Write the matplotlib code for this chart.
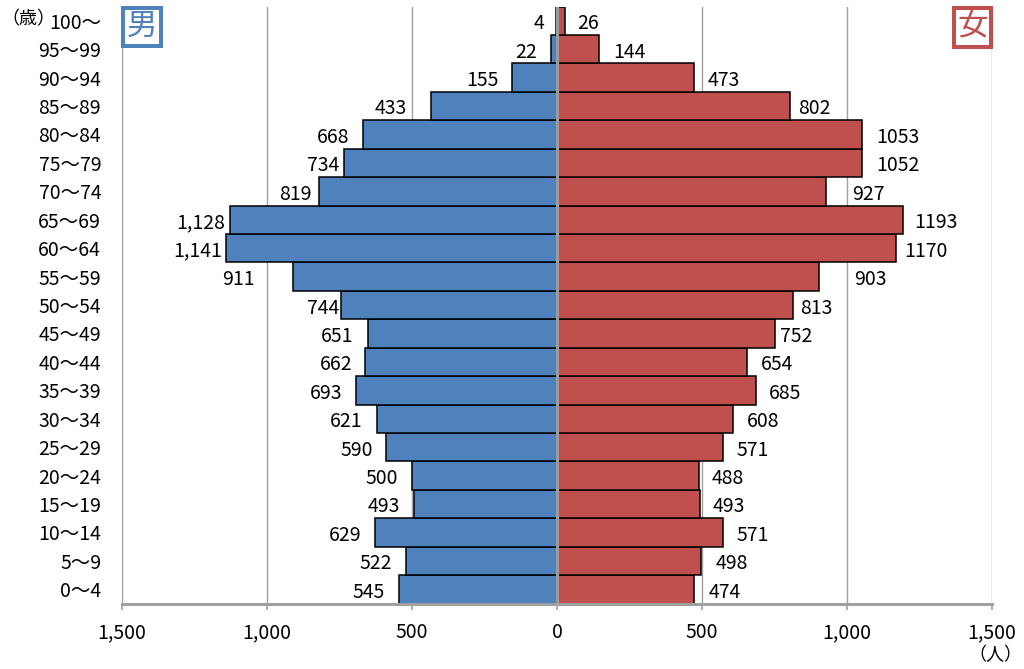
import matplotlib
matplotlib.use('Agg')
import matplotlib.pyplot as plt
from matplotlib.patches import Rectangle
from matplotlib.ticker import FuncFormatter

plt.rcParams['font.family'] = ['Noto Sans CJK JP', 'DejaVu Sans']

# --- データ (下から上へ: 0～4 → 100～) ---
age_labels = ['0～4', '5～9', '10～14', '15～19', '20～24', '25～29', '30～34',
              '35～39', '40～44', '45～49', '50～54', '55～59', '60～64', '65～69',
              '70～74', '75～79', '80～84', '85～89', '90～94', '95～99', '100～']
male = [545, 522, 629, 493, 500, 590, 621, 693, 662, 651, 744,
        911, 1141, 1128, 819, 734, 668, 433, 155, 22, 4]
female = [474, 498, 571, 493, 488, 571, 608, 685, 654, 752, 813,
          903, 1170, 1193, 927, 1052, 1053, 802, 473, 144, 26]
x_ticks = [-1500, -1000, -500, 0, 500, 1000, 1500]

# ラベルのずらし量 (px) - 元の図に合わせた手作業の配置
male_off = [14, 14, 13, 14, 14, 13, 14, 14, 13, 15, 2, 38, 4, 5, 8, 5, 14, 25, 13, 14, 11]
female_off = [14, 14, 14, 13, 13, 14, 14, 13, 14, 5, 7, 35, 8, 11, 26, 14, 14, 9, 13, 14, 13]

BLUE = '#4F81BD'
RED = '#C0504D'
GRID = '#A0A0A0'
PX = 0.72  # 1px -> pt (dpi 100)
FS = 14

fig = plt.figure(figsize=(10.24, 6.69), dpi=100)
ax = fig.add_axes([122 / 1024, 1 - 603.5 / 669, 870 / 1024, 597 / 669])

y = list(range(len(age_labels)))
ax.barh(y, [-v for v in male], height=1.0, color=BLUE, edgecolor='black',
        linewidth=1.1, zorder=2)
ax.barh(y, female, height=1.0, color=RED, edgecolor='black',
        linewidth=1.1, zorder=2)

ax.axvline(0, color='#9A9A9A', linewidth=2.2, zorder=3)

for i in y:
    ax.annotate(f"{male[i]:,}", (-male[i], i), xytext=(-male_off[i] * PX, -3 * PX),
                textcoords='offset points', ha='right', va='center', fontsize=FS)
    ax.annotate(f"{female[i]}", (female[i], i), xytext=(female_off[i] * PX, -3 * PX),
                textcoords='offset points', ha='left', va='center', fontsize=FS)

ax.set_xlim(-1500, 1500)
ax.set_ylim(-0.5, len(age_labels) - 0.5)
ax.set_xticks(x_ticks)
ax.xaxis.set_major_formatter(FuncFormatter(lambda v, p: f"{abs(int(v)):,}"))
ax.set_yticks(y)
ax.set_yticklabels(age_labels)
ax.grid(axis='x', color=GRID, linewidth=1.0, zorder=0)
ax.set_axisbelow(True)

for s in ['top', 'left', 'right']:
    ax.spines[s].set_visible(False)
ax.spines['bottom'].set_color(GRID)
ax.spines['bottom'].set_linewidth(2.2)
ax.spines['bottom'].set_zorder(4)

ax.tick_params(axis='x', direction='out', length=4.5, width=1.2, color=GRID,
               labelsize=FS, pad=9)
ax.tick_params(axis='y', length=0, labelsize=FS, pad=15)

# 単位
fig.text(1 / 1024, 1 - 19 / 669, '（歳）', ha='left', va='center', fontsize=13)
fig.text(1022 / 1024, 1 - 655 / 669, '（人）', ha='right', va='center', fontsize=13)

# 男・女のボックス
for (x0, x1, y0, y1, col, txt) in [(123, 161, 7.7, 45.7, BLUE, '男'),
                                     (953.7, 991.3, 7.7, 47, RED, '女')]:
    fig.patches.append(Rectangle((x0 / 1024, 1 - y1 / 669), (x1 - x0) / 1024,
                                 (y1 - y0) / 669, transform=fig.transFigure,
                                 facecolor='white', edgecolor=col, linewidth=2.9,
                                 zorder=5))
    fig.text((x0 + x1) / 2 / 1024, 1 - (y0 + y1) / 2 / 669, txt, color=col,
             ha='center', va='center', fontsize=22, zorder=6)

plt.savefig('out.png', dpi=100)
